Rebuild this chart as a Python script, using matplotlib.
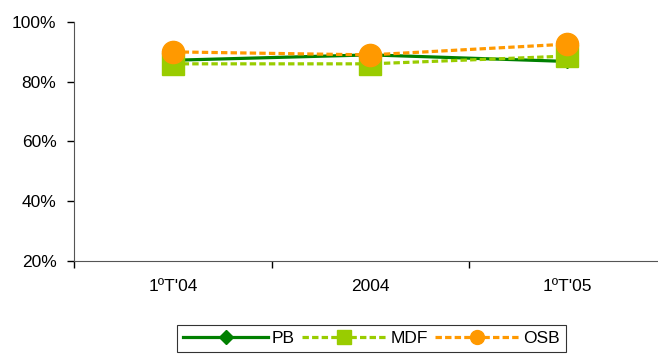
import matplotlib.pyplot as plt
from matplotlib.ticker import FuncFormatter

plt.rcParams['font.family'] = ['Liberation Sans', 'DejaVu Sans']

periods = ["1ºT'04", "2004", "1ºT'05"]
pb = [87.2, 89.0, 86.8]
mdf = [86.0, 86.0, 88.6]
osb = [90.0, 89.0, 92.6]

fig = plt.figure(figsize=(6.58, 3.58), dpi=100)
ax = fig.add_axes([0.1132, 0.271, 0.899, 0.6675])

x = range(len(periods))
ax.plot(x, pb, color='#008000', lw=2.3, marker='D', ms=7, label='PB', zorder=3)
ax.plot(x, mdf, color='#99CC00', lw=2.3, ls=(0, (2, 1)), marker='s', ms=16,
        label='MDF', zorder=4)
ax.plot(x, osb, color='#FF9900', lw=2.3, ls=(0, (2, 1)), marker='o', ms=16,
        label='OSB', zorder=5)

ax.set_xlim(-0.5, 2.5)
ax.set_ylim(20, 100)
ax.set_yticks([20, 40, 60, 80, 100])
ax.yaxis.set_major_formatter(FuncFormatter(lambda v, p: '{:.0f}%'.format(v)))
ax.set_xticks([-0.5, 0.5, 1.5, 2.5])
ax.set_xticks(list(x), minor=True)
ax.set_xticklabels([])
ax.set_xticklabels(periods, minor=True)
ax.tick_params(axis='x', which='minor', length=0, pad=13)
ax.tick_params(axis='both', which='major', length=5, width=1, color='#000000')
ax.tick_params(axis='y', pad=8)
ax.tick_params(which='both', labelsize=12.5)
for s in ['top', 'right']:
    ax.spines[s].set_visible(False)
for s in ['left', 'bottom']:
    ax.spines[s].set_color('#555555')

leg = fig.legend(loc='upper center', bbox_to_anchor=(0.5646, 0.092), ncol=3,
                 fontsize=12.5, frameon=True, fancybox=False,
                 handlelength=4.9, handletextpad=0.2, columnspacing=0.4,
                 borderpad=0.35, borderaxespad=0)
leg.get_frame().set_edgecolor('#000000')
leg.get_frame().set_linewidth(0.8)
for h, size in zip(leg.legend_handles, [7, 10, 10]):
    h.set_markersize(size)

fig.savefig('out.png', dpi=100)
